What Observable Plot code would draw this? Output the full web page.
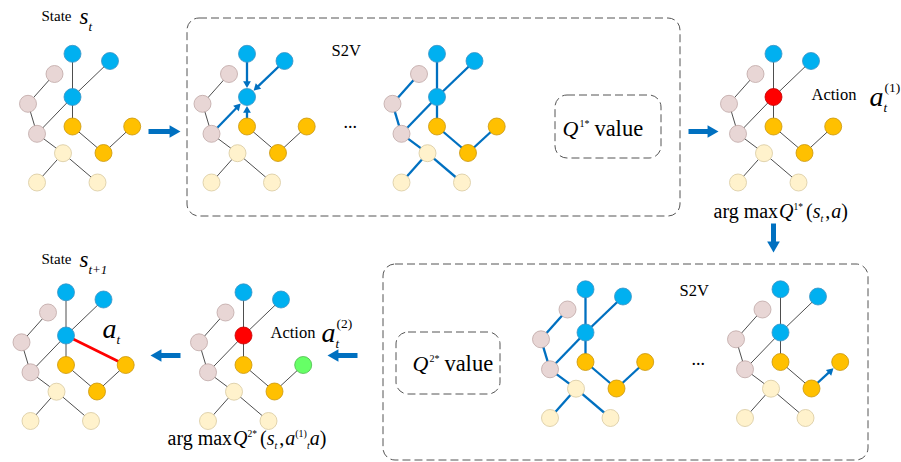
<!DOCTYPE html>
<html><head><meta charset="utf-8">
<script src="https://cdn.jsdelivr.net/npm/d3@7"></script>
<script src="https://cdn.jsdelivr.net/npm/@observablehq/plot@0.6"></script>
<style>body{margin:0;background:#fff}#chart svg{display:block;background:#fff}</style>
</head><body><div id="chart"></div>
<script>
// ---- graph template (node layout of one panel) ----
const nodeIds   = ["b1","b2","b3","p1","p2","p3","y1","y2","y3","c1","c2","c3"];
const nodeX     = [72,109.5,72,54,27.5,36.5,72,131.7,103,62.5,36.5,97];
const nodeY     = [53.3,60.5,96.5,73.5,103.3,133.3,126,126,152.5,152.7,182,182];
const nodeKind  = ["blue","blue","blue","pink","pink","pink","gold","gold","gold","cream","cream","cream"];
const edgeSource = ["b1","b2","b3","b3","p1","p2","p3","c1","c1","y1","y3"];
const edgeTarget = ["b3","b3","p3","y1","p2","p3","c1","c2","c3","y3","y2"];

// ---- panels ----
const panelNames = ["state","s2vA","s2vB","action1","next","action2","s2vC","s2vD"];
const panelDX    = [0,174.5,364.5,701,-6.5,171,513,708];
const panelDY    = [0,0,0,0,238.5,238.5,235.5,235.5];
const bluePanels = ["s2vB","s2vC"];
const nodeOverride = [
  {panel:"action1", node:"b3", kind:"red"},
  {panel:"action2", node:"b3", kind:"red"},
  {panel:"action2", node:"y2", kind:"green"}
];
const messageArrows = [
  {panel:"s2vA", from:"b1", to:"b3"},
  {panel:"s2vA", from:"b2", to:"b3"},
  {panel:"s2vA", from:"p3", to:"b3"},
  {panel:"s2vA", from:"y1", to:"b3"},
  {panel:"s2vD", from:"y3", to:"y2"}
];
const actionEdges = [{panel:"next", from:"b3", to:"y2"}];

const kindFill   = {blue:"#00B0F0", pink:"#E8D6D5", gold:"#FFC000", cream:"#FFF2CC", red:"#FF0000", green:"#66FF66"};
const kindStroke = {blue:"#3B93C4", pink:"#BFA7A6", gold:"#C9960C", cream:"#D8C9A0", red:"#C00000", green:"#4DBB4D"};

// ---- dashed boxes ----
const boxX1 = [187, 555, 383, 396];
const boxX2 = [680, 661, 868, 500];
const boxY1 = [18, 95, 264, 332];
const boxY2 = [216, 158, 460, 394];

// ---- flow arrows ----
const flowX1 = [148, 688, 773, 357, 180];
const flowY1 = [131, 131, 223, 355, 355];
const flowX2 = [180, 718, 773, 327, 150];
const flowY2 = [131, 131, 252, 355, 355];

// ---- labels (runs of text pieces) ----
const labelRuns = [
  {x:41, y:20, parts:[{t:"State",s:15},{t:"s",s:23,i:1,dy:3,gap:8},{t:"t",s:13,i:1,dy:10}]},
  {x:331, y:55, parts:[{t:"S2V",s:16.5}]},
  {x:343, y:127, parts:[{t:"...",s:18}]},
  {x:562, y:135, parts:[{t:"Q",s:22,i:1},{t:"1*",s:10,dy:-9,gap:1},{t:"value",s:22.5,gap:5}]},
  {x:811, y:99, parts:[{t:"Action",s:16.5}]},
  {x:869, y:105, parts:[{t:"a",s:28,i:1},{t:"t",s:13,i:1,dy:6}]},
  {x:884, y:91, parts:[{t:"(1)",s:13.5}]},
  {x:713, y:217, parts:[{t:"arg max",s:20},{t:"Q",s:20,i:1,gap:1},{t:"1*",s:9.5,dy:-8},{t:"(",s:20,gap:3},{t:"s",s:20,i:1},{t:"t",s:10,i:1,dy:4},{t:",",s:20,gap:2},{t:"a",s:20,i:1,gap:1},{t:")",s:20}]},
  {x:41, y:263, parts:[{t:"State",s:15},{t:"s",s:23,i:1,dy:3,gap:8},{t:"t+1",s:13,i:1,dy:10}]},
  {x:102, y:337, parts:[{t:"a",s:28,i:1},{t:"t",s:13,i:1,dy:6}]},
  {x:270, y:337, parts:[{t:"Action",s:16.5}]},
  {x:321, y:341, parts:[{t:"a",s:28,i:1},{t:"t",s:13,i:1,dy:6}]},
  {x:336, y:327, parts:[{t:"(2)",s:13.5}]},
  {x:167, y:444, parts:[{t:"arg max",s:20},{t:"Q",s:20,i:1,gap:1},{t:"2*",s:9.5,dy:-8},{t:"(",s:20,gap:3},{t:"s",s:20,i:1},{t:"t",s:10,i:1,dy:4},{t:",",s:20,gap:2},{t:"a",s:20,i:1,gap:1},{t:"(1)",s:10,dy:-8},{t:"t",s:10,i:1,dy:4},{t:"a",s:20,i:1},{t:")",s:20}]},
  {x:679, y:295, parts:[{t:"S2V",s:16.5}]},
  {x:691, y:364, parts:[{t:"...",s:18}]},
  {x:412, y:370, parts:[{t:"Q",s:22,i:1},{t:"2*",s:10,dy:-9,gap:1},{t:"value",s:22.5,gap:5}]}
];

// ---- build ----
const FONT = "'Liberation Serif', 'Times New Roman', Times, serif";
const R = 8.5;
const nodeIndex = Object.fromEntries(nodeIds.map((id, i) => [id, i]));
const pos = (p, id) => {
  const pi = panelNames.indexOf(p), i = nodeIndex[id];
  return [nodeX[i] + panelDX[pi], nodeY[i] + panelDY[pi]];
};
const nodes = [];
panelNames.forEach((p, pi) => nodeIds.forEach((id, i) => {
  const ov = nodeOverride.find(o => o.panel === p && o.node === id);
  nodes.push({x: nodeX[i] + panelDX[pi], y: nodeY[i] + panelDY[pi], kind: ov ? ov.kind : nodeKind[i]});
}));
const edges = [];
panelNames.forEach(p => edgeSource.forEach((s, k) => {
  const t = edgeTarget[k];
  if (messageArrows.some(m => m.panel === p && ((m.from === s && m.to === t) || (m.from === t && m.to === s)))) return;
  const [x1, y1] = pos(p, s), [x2, y2] = pos(p, t);
  edges.push({x1, y1, x2, y2, style: bluePanels.includes(p) ? "blue" : "plain"});
}));
const redEdges = actionEdges.map(e => { const [x1, y1] = pos(e.panel, e.from), [x2, y2] = pos(e.panel, e.to); return {x1, y1, x2, y2}; });

function arrowGeom(x1, y1, x2, y2, tipBack, hr) {
  const L = Math.hypot(x2 - x1, y2 - y1), ux = (x2 - x1) / L, uy = (y2 - y1) / L;
  const tx = x2 - ux * tipBack, ty = y2 - uy * tipBack;
  const hl = 2.33 * hr;
  return {x1, y1, sx: tx - ux * hl * 0.7, sy: ty - uy * hl * 0.7,
          hx: tx - ux * 1.555 * hr, hy: ty - uy * 1.555 * hr,
          rot: Math.atan2(uy, ux) * 180 / Math.PI + 90};
}
const msg = messageArrows.map(m => { const [x1, y1] = pos(m.panel, m.from), [x2, y2] = pos(m.panel, m.to); return arrowGeom(x1, y1, x2, y2, R + 0.6, 2.9); });
const flows = flowX1.map((_, i) => arrowGeom(flowX1[i], flowY1[i], flowX2[i], flowY2[i], 0, 4.7));
const boxes = boxX1.map((_, i) => ({x1: boxX1[i], x2: boxX2[i], y1: boxY1[i], y2: boxY2[i]}));

const ctx = document.createElement("canvas").getContext("2d");
const texts = [];
labelRuns.forEach(run => {
  let x = run.x;
  run.parts.forEach(pt => {
    x += pt.gap || 0;
    ctx.font = `${pt.i ? "italic " : ""}${pt.s}px ${FONT}`;
    texts.push({t: pt.t, x, y: run.y + (pt.dy || 0), s: pt.s, i: !!pt.i});
    x += ctx.measureText(pt.t).width;
  });
});

const textOpts = (italic) => ({x: "x", y: "y", text: "t", fontSize: "s", fontFamily: FONT, fontStyle: italic ? "italic" : "normal",
  fontWeight: "normal", textAnchor: "start", lineAnchor: "bottom", fill: "#000"});

const chart = Plot.plot({
  width: 901, height: 462, margin: 0,
  x: {domain: [0, 901], axis: null},
  y: {domain: [0, 462], range: [0, 462], axis: null},
  style: {background: "#fff", fontFamily: FONT},
  marks: [
    Plot.rect(boxes, {x1: "x1", x2: "x2", y1: "y1", y2: "y2", fill: "none", stroke: "#555", strokeWidth: 1, strokeDasharray: "8,4", rx: 12}),
    Plot.link(edges.filter(e => e.style === "plain"), {x1: "x1", y1: "y1", x2: "x2", y2: "y2", stroke: "#3a3a3a", strokeWidth: 0.9}),
    Plot.link(edges.filter(e => e.style === "blue"), {x1: "x1", y1: "y1", x2: "x2", y2: "y2", stroke: "#0070C0", strokeWidth: 2.3}),
    Plot.link(redEdges, {x1: "x1", y1: "y1", x2: "x2", y2: "y2", stroke: "#FF0000", strokeWidth: 2.6}),
    Plot.link(msg, {x1: "x1", y1: "y1", x2: "sx", y2: "sy", stroke: "#0070C0", strokeWidth: 2.3}),
    Plot.dot(nodes, {x: "x", y: "y", r: R, fill: d => kindFill[d.kind], stroke: d => kindStroke[d.kind], strokeWidth: 0.8}),
    Plot.dot(msg, {x: "hx", y: "hy", r: 2.9, symbol: "triangle", rotate: "rot", fill: "#0070C0", stroke: "none"}),
    Plot.link(flows, {x1: "x1", y1: "y1", x2: "sx", y2: "sy", stroke: "#0070C0", strokeWidth: 5}),
    Plot.dot(flows, {x: "hx", y: "hy", r: 4.7, symbol: "triangle", rotate: "rot", fill: "#0070C0", stroke: "none"}),
    Plot.text(texts.filter(d => !d.i), textOpts(false)),
    Plot.text(texts.filter(d => d.i), textOpts(true))
  ]
});
document.getElementById("chart").append(chart);
</script>
</body></html>
